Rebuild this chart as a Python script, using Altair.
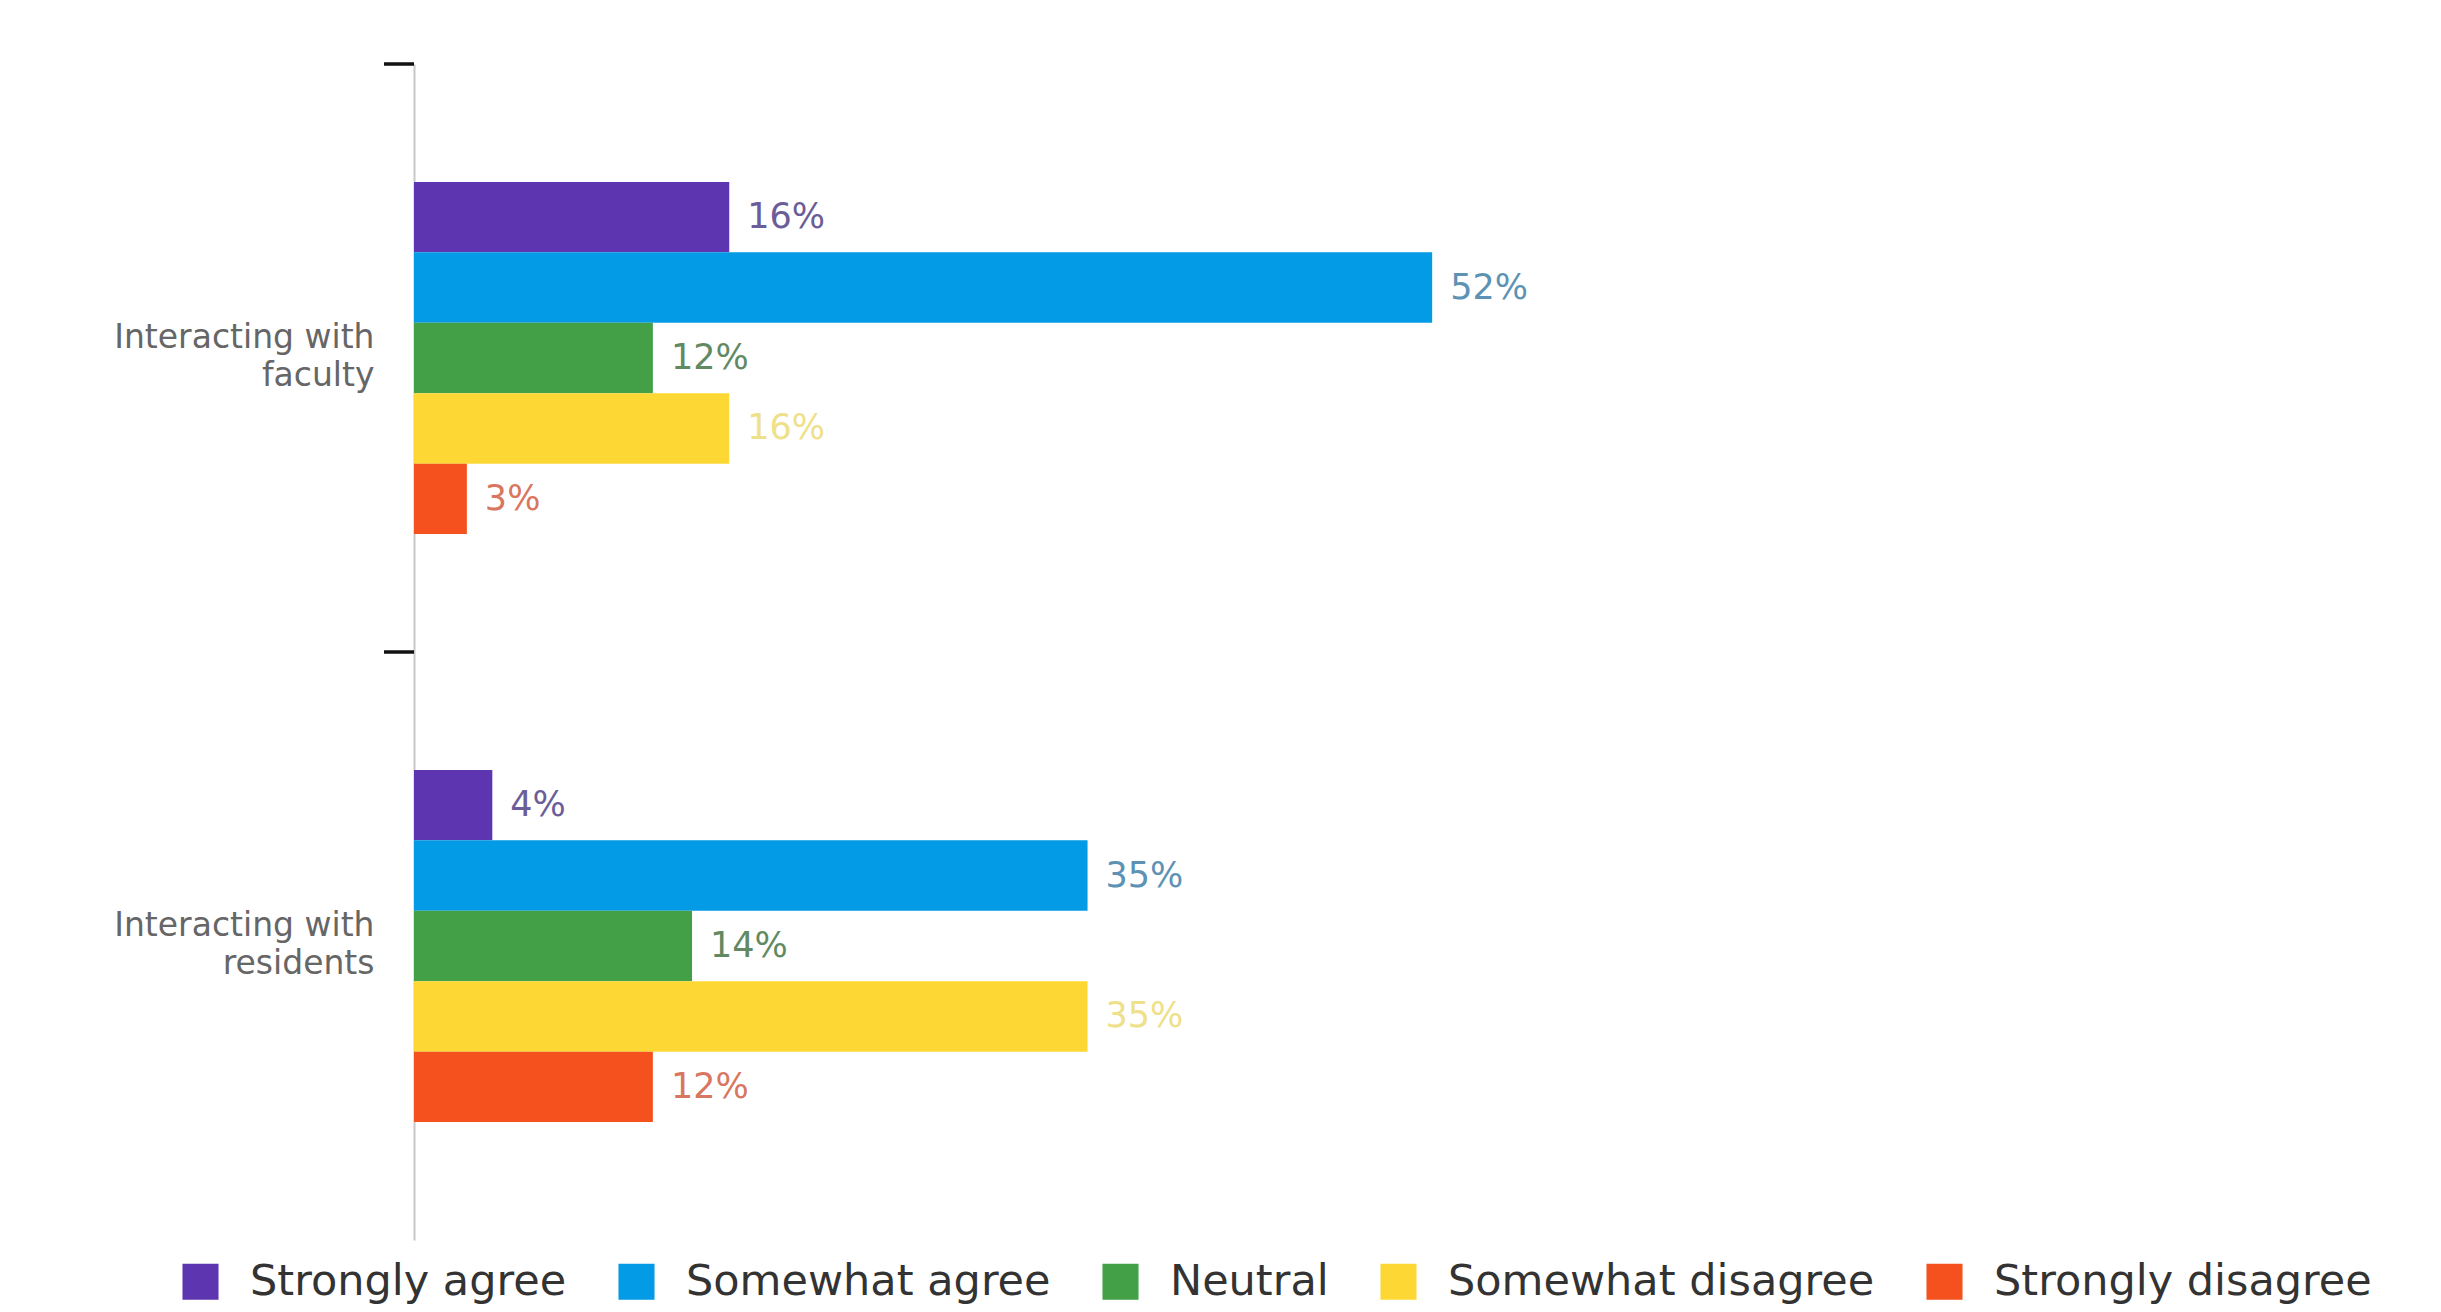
import altair as alt
import pandas as pd

categories = ["Interacting with faculty", "Interacting with residents"]
responses = ["Strongly agree", "Somewhat agree", "Neutral", "Somewhat disagree", "Strongly disagree"]
# bar lengths
faculty_values = [16.1, 52, 12.2, 16.1, 2.7]
resident_values = [4, 34.4, 14.2, 34.4, 12.2]
# printed labels
faculty_labels = ["16%", "52%", "12%", "16%", "3%"]
resident_labels = ["4%", "35%", "14%", "35%", "12%"]
bar_colors = ["#5E35B1", "#039BE5", "#43A047", "#FDD835", "#F4511E"]
label_colors = ["#6a5d98", "#5d92b4", "#628a62", "#efe08a", "#d9765f"]

rows = []
for cat, vals, labs in zip(categories, [faculty_values, resident_values], [faculty_labels, resident_labels]):
    for r, v, l in zip(responses, vals, labs):
        rows.append({"cat": cat, "resp": r, "val": v, "lab": l})
df = pd.DataFrame(rows)
ticks_df = pd.DataFrame({"cat": categories})

FONT = "DejaVu Sans"
P_IN = 0.401

y_scale = alt.Scale(paddingInner=P_IN, paddingOuter=P_IN / 2)

y_axis = alt.Axis(
    title=None,
    ticks=False,
    domainColor="#c8c8c8",
    domainWidth=2,
    labelFont=FONT,
    labelFontSize=33,
    labelColor="#666666",
    labelLineHeight=38,
    labelPadding=40,
    labelLimit=0,
    labelOffset=-20,
    labelBaseline="middle",
    labelExpr="datum.value == 'Interacting with faculty' ? ['Interacting with', 'faculty'] : ['Interacting with', 'residents']",
)

yoff_enc = alt.YOffset(
    "resp:N", sort=responses, scale=alt.Scale(paddingInner=0, paddingOuter=0)
)
x_enc = alt.X("val:Q", scale=alt.Scale(domain=[0, 100]), axis=None)

bars = alt.Chart(df).mark_bar().encode(
    x=x_enc,
    y=alt.Y("cat:N", sort=categories, scale=y_scale, axis=y_axis),
    yOffset=yoff_enc,
    color=alt.Color(
        "resp:N",
        sort=responses,
        scale=alt.Scale(domain=responses, range=bar_colors),
        legend=alt.Legend(
            title=None,
            orient="none",
            direction="horizontal",
            legendX=-235,
            legendY=1196,
            symbolType="square",
            symbolSize=1300,
            symbolStrokeWidth=0,
            symbolOpacity=1,
            labelFont=FONT,
            labelFontSize=43,
            labelColor="#333333",
            labelOffset=28,
            columnPadding=48,
            labelLimit=0,
        ),
    ),
)

labels = alt.Chart(df).mark_text(
    align="left", baseline="middle", dx=18, font=FONT, fontSize=35
).encode(
    x=x_enc,
    y=alt.Y("cat:N", sort=categories, scale=y_scale, axis=None),
    yOffset=yoff_enc,
    text="lab:N",
    fill=alt.Fill(
        "resp:N",
        sort=responses,
        scale=alt.Scale(domain=responses, range=label_colors),
        legend=None,
    ),
)

tick_marks = alt.Chart(ticks_df).mark_rule(color="#111111", strokeWidth=3.5).encode(
    y=alt.Y(
        "cat:N",
        sort=categories,
        bandPosition=0,
        scale=alt.Scale(paddingInner=0, paddingOuter=0),
        axis=None,
    ),
    x=alt.value(-30),
    x2=alt.value(0),
)

chart = (
    alt.layer(bars, labels, tick_marks)
    .resolve_scale(y="independent")
    .properties(
        width=1958,
        height=1176,
        padding={"left": 406, "top": 56, "right": 40, "bottom": 70},
        autosize=alt.AutoSizeParams(type="none"),
        background="white",
    )
    .configure_view(stroke=None)
)

chart.save("out.html", embed_options={"renderer": "svg", "actions": False})
